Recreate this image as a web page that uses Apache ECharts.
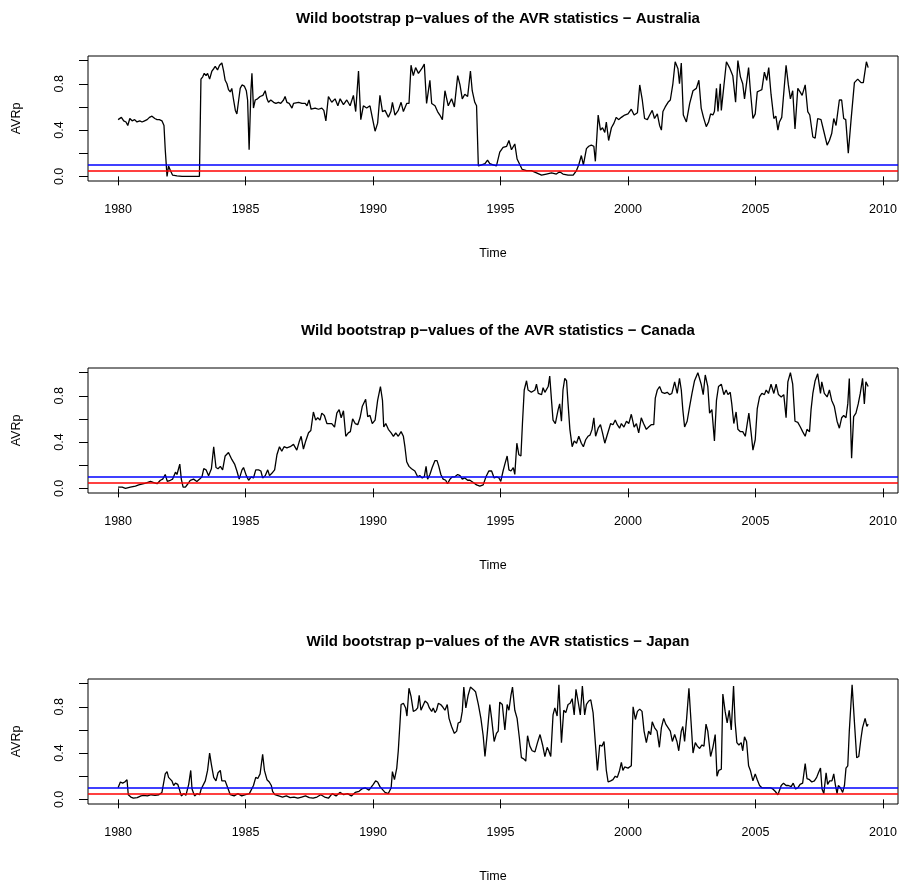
<!DOCTYPE html>
<html>
<head>
<meta charset="utf-8">
<script src="https://cdn.jsdelivr.net/npm/echarts@6/dist/echarts.min.js"></script>
<style>
  html, body { margin: 0; padding: 0; background: #fff; }
  #chart { width: 906px; height: 890px; }
</style>
</head>
<body>
<div id="chart"></div>
<script>
// monthly p-values, [time, p]
var australia = [
  [1980.00,.49],[1980.07,.50],[1980.13,.51],[1980.22,.48],[1980.31,.47],[1980.38,.44],[1980.46,.50],[1980.55,.48],[1980.65,.49],[1980.74,.47],
  [1980.85,.48],[1980.94,.47],[1981.04,.48],[1981.14,.49],[1981.23,.51],[1981.33,.52],[1981.44,.50],[1981.53,.49],[1981.62,.49],[1981.72,.48],
  [1981.80,.44],[1981.85,.23],[1981.92,.00],[1981.98,.09],[1982.05,.05],[1982.14,.01],[1982.31,.005],[1982.51,0],[1982.77,0],[1983.03,0],[1983.19,0],
  [1983.25,.84],[1983.32,.86],[1983.38,.89],[1983.45,.87],[1983.51,.89],[1983.59,.84],[1983.68,.91],[1983.75,.93],[1983.81,.95],[1983.90,.92],
  [1983.98,.96],[1984.07,.98],[1984.14,.91],[1984.20,.83],[1984.27,.80],[1984.33,.75],[1984.40,.73],[1984.46,.76],[1984.53,.66],[1984.60,.57],
  [1984.66,.54],[1984.73,.66],[1984.79,.76],[1984.86,.79],[1984.95,.78],[1985.03,.74],[1985.08,.66],[1985.14,.23],[1985.21,.74],[1985.25,.89],
  [1985.31,.59],[1985.38,.66],[1985.47,.67],[1985.57,.69],[1985.68,.70],[1985.77,.74],[1985.84,.67],[1985.90,.64],[1985.99,.66],[1986.10,.64],
  [1986.19,.63],[1986.29,.64],[1986.38,.63],[1986.49,.66],[1986.55,.69],[1986.62,.64],[1986.71,.63],[1986.82,.59],[1986.88,.63],[1987.08,.64],
  [1987.21,.63],[1987.34,.63],[1987.41,.61],[1987.49,.66],[1987.57,.58],[1987.73,.59],[1987.86,.58],[1987.99,.59],[1988.07,.57],[1988.15,.48],
  [1988.25,.69],[1988.38,.64],[1988.51,.67],[1988.62,.61],[1988.71,.67],[1988.84,.62],[1988.97,.66],[1989.10,.61],[1989.23,.70],[1989.32,.56],
  [1989.43,.91],[1989.52,.49],[1989.62,.61],[1989.75,.59],[1989.88,.61],[1989.97,.51],[1990.08,.39],[1990.18,.46],[1990.27,.70],[1990.37,.56],
  [1990.47,.57],[1990.60,.51],[1990.70,.56],[1990.76,.64],[1990.86,.53],[1990.99,.57],[1991.10,.64],[1991.19,.56],[1991.32,.63],[1991.41,.63],
  [1991.49,.96],[1991.58,.87],[1991.67,.94],[1991.78,.89],[1991.91,.93],[1992.01,.97],[1992.10,.63],[1992.23,.83],[1992.30,.63],[1992.43,.61],
  [1992.53,.56],[1992.62,.53],[1992.72,.49],[1992.82,.74],[1992.95,.61],[1993.08,.67],[1993.19,.60],[1993.32,.87],[1993.41,.79],[1993.50,.67],
  [1993.60,.71],[1993.71,.69],[1993.82,.91],[1993.89,.74],[1993.99,.64],[1994.06,.61],[1994.13,.09],[1994.26,.10],[1994.39,.11],[1994.49,.14],
  [1994.58,.11],[1994.71,.10],[1994.84,.09],[1994.97,.21],[1995.10,.25],[1995.24,.26],[1995.33,.31],[1995.43,.23],[1995.56,.28],[1995.65,.15],
  [1995.76,.10],[1995.85,.06],[1996.02,.05],[1996.21,.05],[1996.41,.03],[1996.61,.01],[1996.80,.02],[1997.00,.03],[1997.19,.02],[1997.32,.04],
  [1997.45,.02],[1997.65,.01],[1997.85,.01],[1997.98,.05],[1998.07,.10],[1998.17,.18],[1998.25,.10],[1998.37,.24],[1998.46,.26],[1998.56,.27],
  [1998.66,.26],[1998.72,.13],[1998.83,.53],[1998.92,.40],[1999.00,.42],[1999.09,.38],[1999.15,.47],[1999.24,.31],[1999.35,.42],[1999.45,.46],
  [1999.54,.51],[1999.63,.49],[1999.74,.51],[1999.87,.53],[2000.00,.54],[2000.13,.58],[2000.24,.53],[2000.37,.55],[2000.46,.79],[2000.56,.66],
  [2000.65,.50],[2000.76,.49],[2000.85,.53],[2000.95,.57],[2001.04,.50],[2001.15,.54],[2001.24,.44],[2001.31,.40],[2001.37,.56],[2001.46,.60],
  [2001.57,.64],[2001.66,.66],[2001.76,.80],[2001.85,.99],[2001.96,.93],[2002.02,.80],[2002.09,.98],[2002.17,.53],[2002.29,.47],[2002.42,.63],
  [2002.48,.64],[2002.55,.74],[2002.68,.76],[2002.78,.83],[2002.87,.59],[2002.96,.51],[2003.07,.43],[2003.16,.47],[2003.24,.54],[2003.33,.53],
  [2003.39,.56],[2003.47,.76],[2003.53,.56],[2003.62,.80],[2003.66,.57],[2003.73,.56],[2003.86,.99],[2003.98,.94],[2004.11,.87],[2004.22,.64],
  [2004.31,1.00],[2004.41,.86],[2004.50,.80],[2004.57,.67],[2004.73,.94],[2004.80,.74],[2004.90,.50],[2004.99,.54],[2005.07,.73],[2005.16,.74],
  [2005.25,.75],[2005.35,.90],[2005.44,.83],[2005.52,.94],[2005.61,.71],[2005.72,.50],[2005.80,.52],[2005.88,.40],[2005.94,.47],[2006.03,.51],
  [2006.20,.96],[2006.29,.79],[2006.37,.67],[2006.46,.74],[2006.55,.41],[2006.66,.76],[2006.75,.73],[2006.83,.70],[2006.95,.79],[2007.05,.56],
  [2007.13,.53],[2007.25,.34],[2007.34,.33],[2007.44,.50],[2007.57,.49],[2007.68,.39],[2007.81,.27],[2007.90,.31],[2007.99,.37],[2008.07,.50],
  [2008.16,.44],[2008.29,.66],[2008.38,.66],[2008.46,.50],[2008.54,.49],[2008.64,.20],[2008.75,.49],[2008.88,.81],[2009.01,.84],[2009.14,.81],
  [2009.23,.81],[2009.35,.99],[2009.42,.94]
];

var canada = [
  [1980.00,.01],[1980.16,.01],[1980.29,.00],[1980.48,.01],[1980.68,.02],[1980.81,.03],[1981.01,.04],[1981.14,.05],[1981.27,.06],[1981.40,.05],
  [1981.53,.04],[1981.66,.07],[1981.75,.08],[1981.85,.12],[1981.93,.06],[1982.05,.07],[1982.14,.08],[1982.25,.14],[1982.31,.12],[1982.42,.21],
  [1982.48,.08],[1982.55,.01],[1982.64,.01],[1982.74,.04],[1982.83,.07],[1982.96,.08],[1983.09,.06],[1983.20,.08],[1983.29,.10],[1983.36,.17],
  [1983.45,.16],[1983.55,.11],[1983.66,.17],[1983.75,.36],[1983.84,.18],[1983.92,.17],[1984.01,.19],[1984.10,.16],[1984.20,.28],[1984.33,.31],
  [1984.46,.25],[1984.57,.21],[1984.66,.15],[1984.75,.08],[1984.86,.16],[1984.92,.18],[1985.03,.11],[1985.12,.07],[1985.22,.10],[1985.31,.09],
  [1985.40,.16],[1985.51,.16],[1985.60,.15],[1985.67,.09],[1985.77,.11],[1985.87,.16],[1985.94,.11],[1986.03,.13],[1986.14,.16],[1986.23,.29],
  [1986.33,.36],[1986.42,.32],[1986.51,.36],[1986.62,.35],[1986.75,.36],[1986.88,.38],[1987.01,.33],[1987.10,.40],[1987.18,.45],[1987.27,.34],
  [1987.36,.41],[1987.47,.48],[1987.56,.50],[1987.66,.66],[1987.75,.59],[1987.83,.61],[1987.92,.59],[1987.99,.65],[1988.09,.63],[1988.19,.56],
  [1988.25,.55],[1988.38,.56],[1988.49,.53],[1988.58,.65],[1988.67,.68],[1988.75,.61],[1988.84,.67],[1988.93,.45],[1989.03,.48],[1989.11,.49],
  [1989.20,.60],[1989.30,.56],[1989.40,.55],[1989.49,.61],[1989.58,.71],[1989.71,.77],[1989.79,.62],[1989.88,.63],[1989.97,.56],[1990.08,.59],
  [1990.18,.76],[1990.29,.88],[1990.37,.76],[1990.42,.53],[1990.50,.56],[1990.60,.51],[1990.71,.48],[1990.80,.45],[1990.89,.48],[1990.99,.45],
  [1991.10,.49],[1991.19,.45],[1991.25,.36],[1991.32,.23],[1991.41,.19],[1991.51,.17],[1991.64,.15],[1991.75,.10],[1991.84,.11],[1991.93,.09],
  [1992.01,.10],[1992.08,.19],[1992.14,.08],[1992.23,.12],[1992.32,.18],[1992.43,.24],[1992.51,.24],[1992.58,.19],[1992.66,.12],[1992.75,.08],
  [1992.85,.07],[1992.92,.04],[1993.02,.08],[1993.11,.10],[1993.21,.10],[1993.32,.12],[1993.41,.11],[1993.50,.08],[1993.60,.09],[1993.71,.07],
  [1993.80,.07],[1993.93,.05],[1994.06,.03],[1994.19,.02],[1994.32,.03],[1994.43,.10],[1994.54,.15],[1994.65,.15],[1994.75,.09],[1994.84,.10],
  [1994.94,.09],[1995.01,.06],[1995.10,.15],[1995.17,.21],[1995.26,.28],[1995.33,.16],[1995.41,.15],[1995.50,.18],[1995.56,.12],[1995.64,.39],
  [1995.72,.29],[1995.80,.28],[1995.86,.56],[1995.93,.85],[1996.02,.93],[1996.08,.85],[1996.21,.83],[1996.35,.85],[1996.41,.90],[1996.48,.82],
  [1996.61,.81],[1996.67,.87],[1996.74,.83],[1996.87,.88],[1996.93,.97],[1997.00,.76],[1997.06,.59],[1997.15,.56],[1997.26,.68],[1997.32,.73],
  [1997.39,.58],[1997.45,.85],[1997.52,.95],[1997.59,.93],[1997.65,.73],[1997.72,.51],[1997.81,.36],[1997.89,.41],[1997.98,.39],[1998.07,.45],
  [1998.17,.39],[1998.25,.36],[1998.34,.42],[1998.43,.45],[1998.51,.46],[1998.59,.51],[1998.66,.61],[1998.73,.45],[1998.83,.52],[1998.92,.55],
  [1999.00,.48],[1999.09,.39],[1999.17,.45],[1999.24,.46],[1999.32,.56],[1999.41,.55],[1999.50,.59],[1999.58,.55],[1999.67,.52],[1999.74,.56],
  [1999.84,.53],[1999.94,.58],[2000.03,.56],[2000.13,.64],[2000.24,.53],[2000.33,.56],[2000.42,.48],[2000.52,.61],[2000.61,.56],[2000.72,.51],
  [2000.81,.53],[2000.91,.55],[2001.01,.55],[2001.07,.78],[2001.15,.85],[2001.24,.88],[2001.33,.83],[2001.44,.82],[2001.54,.83],[2001.63,.81],
  [2001.72,.82],[2001.83,.92],[2001.93,.82],[2002.02,.95],[2002.09,.85],[2002.15,.68],[2002.22,.53],[2002.32,.58],[2002.42,.71],[2002.51,.82],
  [2002.61,.93],[2002.74,1.00],[2002.87,.90],[2002.95,.81],[2003.03,.98],[2003.13,.88],[2003.20,.65],[2003.29,.68],[2003.39,.41],[2003.47,.76],
  [2003.55,.88],[2003.66,.90],[2003.76,.81],[2003.85,.85],[2003.92,.81],[2004.01,.83],[2004.07,.73],[2004.15,.56],[2004.24,.66],[2004.31,.51],
  [2004.41,.49],[2004.50,.49],[2004.60,.45],[2004.67,.45],[2004.74,.65],[2004.83,.48],[2004.90,.33],[2004.99,.42],[2005.07,.69],[2005.16,.79],
  [2005.25,.82],[2005.35,.81],[2005.42,.85],[2005.51,.82],[2005.61,.90],[2005.72,.82],[2005.81,.90],[2005.90,.81],[2006.01,.79],[2006.11,.81],
  [2006.20,.61],[2006.27,.92],[2006.37,1.00],[2006.46,.90],[2006.55,.58],[2006.66,.57],[2006.76,.53],[2006.85,.49],[2006.95,.45],[2007.02,.51],
  [2007.12,.49],[2007.18,.68],[2007.25,.82],[2007.34,.93],[2007.44,.99],[2007.55,.82],[2007.60,.92],[2007.70,.82],[2007.81,.79],[2007.90,.85],
  [2007.99,.76],[2008.09,.71],[2008.20,.58],[2008.29,.52],[2008.38,.61],[2008.46,.63],[2008.55,.61],[2008.62,.73],[2008.68,.95],[2008.77,.26],
  [2008.85,.62],[2008.94,.65],[2009.03,.73],[2009.11,.82],[2009.20,.95],[2009.27,.73],[2009.33,.92],[2009.42,.88]
];

var japan = [
  [1980.00,.10],[1980.09,.15],[1980.18,.14],[1980.26,.15],[1980.35,.17],[1980.40,.04],[1980.50,.02],[1980.60,.01],[1980.75,.015],[1980.90,.03],
  [1981.00,.035],[1981.15,.03],[1981.30,.04],[1981.45,.035],[1981.60,.04],[1981.72,.06],[1981.85,.22],[1981.92,.24],[1981.98,.19],[1982.05,.20],
  [1982.11,.16],[1982.18,.12],[1982.25,.14],[1982.34,.13],[1982.40,.09],[1982.48,.03],[1982.58,.05],[1982.66,.035],[1982.77,.13],[1982.85,.25],
  [1982.90,.09],[1983.00,.03],[1983.10,.05],[1983.20,.04],[1983.26,.09],[1983.42,.16],[1983.51,.25],[1983.59,.40],[1983.66,.30],[1983.75,.19],
  [1983.84,.16],[1983.92,.23],[1984.01,.25],[1984.07,.16],[1984.14,.15],[1984.20,.16],[1984.30,.10],[1984.40,.04],[1984.55,.03],[1984.70,.05],
  [1984.85,.03],[1985.00,.04],[1985.15,.05],[1985.31,.12],[1985.40,.19],[1985.48,.18],[1985.57,.22],[1985.67,.39],[1985.74,.25],[1985.84,.17],
  [1985.93,.15],[1986.01,.12],[1986.06,.07],[1986.15,.04],[1986.30,.03],[1986.45,.02],[1986.60,.03],[1986.75,.015],[1986.90,.02],[1987.05,.01],
  [1987.20,.02],[1987.35,.03],[1987.50,.015],[1987.65,.01],[1987.80,.02],[1987.95,.04],[1988.10,.02],[1988.25,.01],[1988.40,.05],[1988.55,.03],
  [1988.70,.06],[1988.85,.04],[1989.00,.05],[1989.15,.03],[1989.30,.06],[1989.45,.07],[1989.56,.09],[1989.69,.10],[1989.84,.08],[1990.01,.13],
  [1990.10,.16],[1990.18,.15],[1990.27,.11],[1990.34,.12],[1990.47,.06],[1990.60,.05],[1990.71,.10],[1990.76,.24],[1990.84,.17],[1990.93,.27],
  [1990.99,.42],[1991.06,.67],[1991.10,.82],[1991.19,.83],[1991.28,.79],[1991.33,.72],[1991.41,.96],[1991.49,.89],[1991.58,.76],[1991.67,.77],
  [1991.75,.79],[1991.81,.90],[1991.88,.77],[1991.94,.77],[1992.04,.85],[1992.14,.83],[1992.21,.79],[1992.30,.76],[1992.36,.79],[1992.43,.75],
  [1992.49,.77],[1992.56,.83],[1992.65,.82],[1992.73,.80],[1992.82,.77],[1992.91,.82],[1992.98,.70],[1993.08,.63],[1993.19,.57],[1993.28,.59],
  [1993.34,.66],[1993.43,.67],[1993.50,.76],[1993.56,.97],[1993.64,.79],[1993.73,.90],[1993.82,.97],[1993.93,.95],[1994.02,.93],[1994.13,.82],
  [1994.23,.70],[1994.32,.55],[1994.39,.37],[1994.48,.57],[1994.58,.82],[1994.65,.70],[1994.75,.50],[1994.84,.57],[1994.91,.59],[1994.97,.84],
  [1995.07,.82],[1995.17,.60],[1995.26,.82],[1995.33,.77],[1995.41,.90],[1995.47,.97],[1995.56,.77],[1995.65,.70],[1995.74,.53],[1995.82,.36],
  [1995.91,.35],[1995.99,.33],[1996.06,.55],[1996.15,.46],[1996.24,.42],[1996.35,.41],[1996.45,.49],[1996.55,.56],[1996.65,.47],[1996.74,.37],
  [1996.83,.45],[1996.89,.42],[1996.97,.37],[1997.06,.73],[1997.13,.79],[1997.22,.72],[1997.29,.99],[1997.39,.49],[1997.48,.77],[1997.56,.75],
  [1997.65,.82],[1997.73,.83],[1997.81,.87],[1997.89,.73],[1997.96,.95],[1998.04,.85],[1998.13,.73],[1998.21,.98],[1998.30,.73],[1998.37,.82],
  [1998.46,.85],[1998.54,.86],[1998.63,.75],[1998.69,.74],[1998.80,.25],[1998.89,.47],[1998.98,.46],[1999.06,.50],[1999.15,.25],[1999.22,.15],
  [1999.32,.16],[1999.41,.17],[1999.50,.20],[1999.58,.19],[1999.67,.25],[1999.74,.32],[1999.80,.25],[1999.87,.28],[2000.00,.27],[2000.13,.29],
  [2000.20,.80],[2000.29,.69],[2000.37,.76],[2000.46,.78],[2000.55,.76],[2000.63,.59],[2000.72,.49],[2000.81,.59],[2000.89,.56],[2000.95,.67],
  [2001.04,.62],[2001.14,.59],[2001.23,.45],[2001.31,.62],[2001.40,.70],[2001.48,.65],[2001.57,.62],[2001.66,.59],[2001.74,.50],[2001.83,.56],
  [2001.92,.50],[2001.99,.42],[2002.09,.59],[2002.15,.63],[2002.22,.50],[2002.30,.70],[2002.39,.96],[2002.47,.68],[2002.55,.40],[2002.64,.49],
  [2002.72,.46],[2002.81,.44],[2002.90,.47],[2002.98,.46],[2003.06,.65],[2003.13,.59],[2003.24,.37],[2003.33,.45],[2003.42,.56],[2003.49,.20],
  [2003.56,.25],[2003.66,.26],[2003.72,.91],[2003.81,.76],[2003.89,.66],[2003.97,.77],[2004.05,.60],[2004.14,.98],[2004.20,.67],[2004.27,.49],
  [2004.35,.47],[2004.44,.49],[2004.50,.42],[2004.57,.54],[2004.65,.50],[2004.73,.29],[2004.80,.25],[2004.90,.16],[2004.99,.22],[2005.07,.17],
  [2005.16,.12],[2005.25,.10],[2005.35,.10],[2005.48,.10],[2005.59,.10],[2005.68,.09],[2005.77,.07],[2005.88,.04],[2005.94,.03],[2006.01,.12],
  [2006.10,.14],[2006.20,.12],[2006.29,.12],[2006.40,.11],[2006.48,.14],[2006.57,.09],[2006.66,.10],[2006.75,.13],[2006.85,.14],[2006.95,.31],
  [2007.02,.18],[2007.12,.17],[2007.21,.15],[2007.31,.16],[2007.40,.19],[2007.47,.23],[2007.55,.27],[2007.61,.09],[2007.68,.05],[2007.77,.23],
  [2007.83,.13],[2007.91,.16],[2008.00,.16],[2008.07,.22],[2008.13,.13],[2008.20,.05],[2008.25,.12],[2008.33,.10],[2008.42,.06],[2008.49,.12],
  [2008.55,.27],[2008.62,.29],[2008.68,.59],[2008.79,.99],[2008.88,.67],[2008.97,.36],[2009.05,.37],[2009.14,.53],[2009.20,.62],[2009.30,.70],
  [2009.37,.63],[2009.42,.65]
];

var countries = ["Australia", "Canada", "Japan"];
var xTicks = [1980, 1985, 1990, 1995, 2000, 2005, 2010];
var yTicks = [0, 0.2, 0.4, 0.6, 0.8, 1.0];
var yLabels = [0, 0.4, 0.8];
var levels = [0.1, 0.05]; // blue, red

var font = "'Liberation Sans', Arial, Helvetica, sans-serif";
var tops = [56, 368, 679];
var panels = [australia, canada, japan];

var chart = echarts.init(document.getElementById("chart"));
var grids = [], xAxes = [], yAxes = [], titles = [], series = [];

for (var i = 0; i < 3; i++) {
  grids.push({
    left: 88, width: 810, top: tops[i], height: 125,
    show: true, borderColor: "#000", borderWidth: 1
  });
  titles.push({
    text: "Wild bootstrap p\u2212values of the AVR statistics \u2212 " + countries[i],
    left: 493, top: tops[i] - 50, textAlign: "center",
    textStyle: { fontFamily: font, fontWeight: "bold", fontSize: 15, color: "#000" }
  });
  xAxes.push({
    type: "value", gridIndex: i, min: 1978.82, max: 2010.59,
    axisLine: { show: false },
    splitLine: { show: false },
    axisTick: { show: true, length: 9, customValues: xTicks, lineStyle: { color: "#000" } },
    axisLabel: {
      customValues: xTicks, margin: 22, color: "#000", fontSize: 12.5, fontFamily: font,
      formatter: function (v) { return String(v); }
    },
    name: "Time", nameLocation: "middle", nameGap: 66,
    nameTextStyle: { color: "#000", fontSize: 12.5, fontFamily: font }
  });
  yAxes.push({
    type: "value", gridIndex: i, min: -0.04, max: 1.04,
    axisLine: { show: false },
    splitLine: { show: false },
    axisTick: { show: true, length: 9, customValues: yTicks, lineStyle: { color: "#000" } },
    axisLabel: {
      customValues: yLabels, rotate: 90, margin: 22, color: "#000", fontSize: 12.5, fontFamily: font,
      formatter: function (v) { return v.toFixed(1); }
    },
    name: "AVRp", nameLocation: "middle", nameGap: 65, nameRotate: 90,
    nameTextStyle: { color: "#000", fontSize: 12.5, fontFamily: font }
  });
  series.push({
    type: "line", xAxisIndex: i, yAxisIndex: i, data: panels[i],
    showSymbol: false, lineStyle: { color: "#000", width: 1.3 },
    markLine: {
      silent: true, symbol: "none", label: { show: false },
      data: [
        { yAxis: levels[0], lineStyle: { color: "#0000ff", width: 1.5, type: "solid" } },
        { yAxis: levels[1], lineStyle: { color: "#ff0000", width: 1.5, type: "solid" } }
      ]
    }
  });
}

chart.setOption({
  animation: false,
  backgroundColor: "#fff",
  title: titles,
  grid: grids,
  xAxis: xAxes,
  yAxis: yAxes,
  series: series
});
</script>
</body>
</html>
